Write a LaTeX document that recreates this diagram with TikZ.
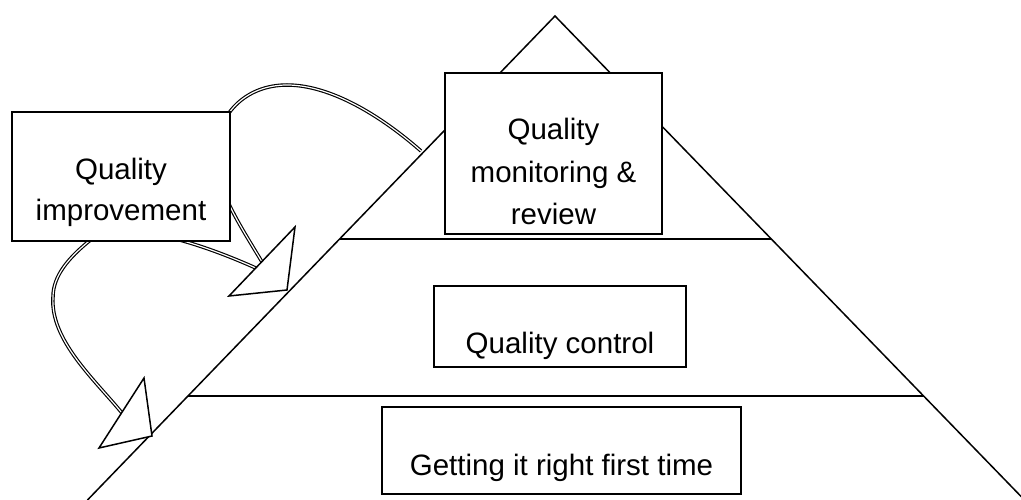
\documentclass[tikz,border=0pt]{standalone}
\usepackage{fontspec}
\setmainfont{Liberation Sans}
\usetikzlibrary{calc}
\begin{document}
\begin{tikzpicture}[x=1pt,y=-1pt,
  edge/.style={line width=1.5pt},
  box/.style={draw, line width=1.6pt, fill=white, inner sep=0pt, outer sep=0pt},
  lbl/.style={anchor=base, inner sep=0pt, font=\fontsize{29.5}{35}\selectfont},
  shaft/.style={draw=black, line width=1.15pt, double=white, double distance=1.2pt},
  headtri/.style={draw, fill=white, line width=1.5pt, line join=miter}]
\useasboundingbox (0,0) rectangle (1021,500);
\clip (0,0) rectangle (1021,500);
% pyramid
\coordinate (apex) at (555,16);
\coordinate (pl) at (87.5,500);
\coordinate (pr) at (1024.5,500);
\coordinate (l1) at ($(apex)!0.4607!(pl)$);
\coordinate (r1) at ($(apex)!0.4607!(pr)$);
\coordinate (l2) at ($(apex)!0.7851!(pl)$);
\coordinate (r2) at ($(apex)!0.7851!(pr)$);
\draw[edge] (pl) -- (apex) -- (pr);
\draw[edge] (l1) -- (r1);
\draw[edge] (l2) -- (r2);
% arrows
\coordinate (a1s) at (421,151);
\coordinate (a1e) at (262,262);
\coordinate (a2s) at (258,269);
\coordinate (a2e) at (122,413);
\draw[shaft] (a1s) .. controls (380,115) and (330,85) .. (287,85)
  .. controls (245,85) and (216,115) .. (216,155)
  .. controls (216,190) and (240,225) .. (a1e);
\draw[shaft] (a2s) .. controls (205,245) and (120,215) .. (88,242)
  .. controls (70,257) and (53,275) .. (53,297)
  .. controls (50,340) and (95,380) .. (a2e);
\coordinate (h1a) at (295,227);
\coordinate (h1t) at (287,290);
\coordinate (h1b) at (229,296);
\coordinate (h2a) at (144,378);
\coordinate (h2t) at (152,436);
\coordinate (h2b) at (99,448);
\draw[headtri] (h1a) -- (h1t) -- (h1b) -- cycle;
\draw[headtri] (h2a) -- (h2t) -- (h2b) -- cycle;
% boxes
\node[box, minimum width=218pt, minimum height=129pt] (qibox) at (121,176.5) {};
\node[box, minimum width=217pt, minimum height=161pt] (qmbox) at (553.5,153.5) {};
\node[box, minimum width=252pt, minimum height=81pt] (qcbox) at (560,326.5) {};
\node[box, minimum width=359pt, minimum height=87pt] (grbox) at (561.5,450.5) {};
% labels
\node[lbl] (qi1) at (121,180) {Quality};
\node[lbl] (qi2) at (121,221) {improvement};
\node[lbl] (qm1) at (553.5,139.5) {Quality};
\node[lbl] (qm2) at (553.5,183) {monitoring \&};
\node[lbl] (qm3) at (553.5,225) {review};
\node[lbl] (qc1) at (560,353) {Quality control};
\node[lbl] (gr1) at (561.5,475) {Getting it right first time};
\end{tikzpicture}
\end{document}
